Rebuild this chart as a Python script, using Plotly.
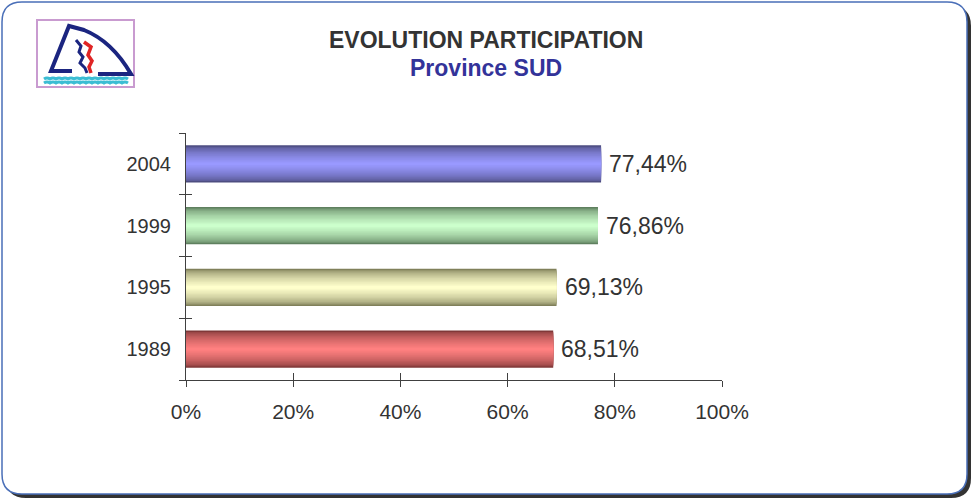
import plotly.graph_objects as go

# ---- data ----
years = ["1989", "1995", "1999", "2004"]
participation = [68.51, 69.13, 76.86, 77.44]
x_tick_vals = [0, 20, 40, 60, 80, 100]
x_tick_text = ["0%", "20%", "40%", "60%", "80%", "100%"]
title_line1 = "EVOLUTION PARTICIPATION"
title_line2 = "Province SUD"

edge_colors = [(0x80, 0x38, 0x38), (0x80, 0x80, 0x5a), (0x5f, 0x80, 0x5f), (0x4d, 0x4d, 0x80)]
center_colors = [(0xff, 0x80, 0x80), (0xff, 0xff, 0xcc), (0xcc, 0xff, 0xcc), (0x99, 0x99, 0xff)]

W, H = 971, 498
ML, MR, MT, MB = 186, W - 722, 133, H - 380
PW, PH = W - ML - MR, H - MT - MB


def px(x):
    return (x - ML) / PW


def py(y):
    return (H - MB - y) / PH


def path(cmds):
    out = []
    for c in cmds:
        if isinstance(c, str):
            out.append(c)
        else:
            out.append(f"{px(c[0]):.5f},{py(c[1]):.5f}")
    return " ".join(out)


def rrect(x0, y0, x1, y1, r):
    return path(["M", (x0 + r, y0), "L", (x1 - r, y0), "Q", (x1, y0), (x1, y0 + r),
                 "L", (x1, y1 - r), "Q", (x1, y1), (x1 - r, y1),
                 "L", (x0 + r, y1), "Q", (x0, y1), (x0, y1 - r),
                 "L", (x0, y0 + r), "Q", (x0, y0), (x0 + r, y0), "Z"])


fig = go.Figure()

N = 14
BAR_W = 0.6
labels = [f"{v:.2f}".replace(".", ",") + "%" for v in participation]
for i in range(N):
    t = (i / (N - 1)) ** 0.6
    cols = []
    for e, c in zip(edge_colors, center_colors):
        rgb = tuple(int(round(e[k] + (c[k] - e[k]) * t)) for k in range(3))
        cols.append("rgb(%d,%d,%d)" % rgb)
    w = BAR_W * (1 - i / N)
    fig.add_trace(go.Bar(
        x=participation, y=years, orientation="h",
        width=w, marker=dict(color=cols, line=dict(width=0)),
        hoverinfo="skip" if i else "x+y", showlegend=False,
    ))

for idx, (v, lab) in enumerate(zip(participation, labels)):
    fig.add_annotation(x=v, y=idx, xref="x", yref="y", text=lab, showarrow=False,
                       xanchor="left", yanchor="middle", xshift=6,
                       font=dict(size=23, color="#333333", family="Liberation Sans, Arial"))

# dummy trace for overlay axes giving the crossing tick halves
fig.add_trace(go.Scatter(x=[None], y=[None], xaxis="x2", yaxis="y2",
                         showlegend=False, hoverinfo="skip"))

axis_color = "#404040"
fig.update_layout(
    width=W, height=H,
    margin=dict(l=ML, r=MR, t=MT, b=MB),
    paper_bgcolor="white", plot_bgcolor="rgba(0,0,0,0)",
    barmode="overlay",
    font=dict(family="Liberation Sans, Arial", color="#333333"),
    xaxis=dict(range=[0, 100], tickvals=x_tick_vals, ticktext=x_tick_text,
               ticks="outside", ticklen=6, tickcolor=axis_color, tickwidth=1,
               showline=True, linecolor=axis_color, linewidth=1,
               showgrid=False, zeroline=False, fixedrange=True,
               tickfont=dict(size=21, color="#333333"), ticklabelstandoff=7),
    yaxis=dict(type="category", categoryorder="array", categoryarray=years,
               range=[-0.5, 3.5], tickson="boundaries",
               ticks="outside", ticklen=6, tickcolor=axis_color, tickwidth=1,
               showline=True, linecolor=axis_color, linewidth=1,
               showgrid=False, zeroline=False, fixedrange=True,
               tickfont=dict(size=20, color="#333333"), ticklabelstandoff=10),
    xaxis2=dict(overlaying="x", anchor="y2", side="bottom", range=[0, 100],
                tickvals=x_tick_vals, ticks="inside", ticklen=7, tickcolor=axis_color,
                showticklabels=False, showline=False, showgrid=False, zeroline=False),
    yaxis2=dict(overlaying="y", anchor="x2", side="left", range=[-0.5, 3.5],
                tickvals=[-0.5, 0.5, 1.5, 2.5, 3.5], ticks="inside", ticklen=6,
                tickcolor=axis_color, showticklabels=False, showline=False,
                showgrid=False, zeroline=False),
)

shapes = []
# frame shadow and frame
shapes.append(dict(type="path", xref="paper", yref="paper", layer="below",
                   path=rrect(6, 6, 971, 498, 20), fillcolor="#333333", line=dict(width=0)))
shapes.append(dict(type="path", xref="paper", yref="paper", layer="below",
                   path=rrect(2, 2, 967, 494, 20), fillcolor="white",
                   line=dict(color="#4a6fb8", width=1.5)))
# logo
shapes.append(dict(type="rect", xref="paper", yref="paper", layer="below",
                   x0=px(37), x1=px(134), y0=py(20), y1=py(87),
                   fillcolor="white", line=dict(color="#c99bd0", width=2)))
blue = "#1b2580"
shapes.append(dict(type="path", xref="paper", yref="paper", layer="below",
                   path=path(["M", (72, 71), "L", (51, 71), "L", (69, 26), "L", (84, 30),
                              "C", (104, 38), (120, 55), (131, 74), "L", (98, 74)]),
                   line=dict(color=blue, width=4)))
shapes.append(dict(type="path", xref="paper", yref="paper", layer="below",
                   path=path(["M", (76, 40), "L", (81, 46), "L", (79, 52), "L", (83, 57),
                              "L", (80, 63), "L", (85, 68), "L", (87, 73)]),
                   line=dict(color=blue, width=3)))
shapes.append(dict(type="path", xref="paper", yref="paper", layer="below",
                   path=path(["M", (84, 42), "L", (91, 47), "L", (88, 55), "L", (92, 61),
                              "L", (89, 67), "L", (91, 73)]),
                   line=dict(color="#e02525", width=3.5)))
wave1 = ["M", (44, 79)]
wave2 = ["M", (44, 83)]
xx = 44
while xx < 128:
    wave1 += ["Q", (xx + 3, 77), (xx + 6, 79)]
    wave2 += ["Q", (xx + 3, 81), (xx + 6, 83)]
    xx += 6
shapes.append(dict(type="path", xref="paper", yref="paper", layer="below",
                   path=path(wave1), line=dict(color="#3bbdd3", width=3)))
shapes.append(dict(type="path", xref="paper", yref="paper", layer="below",
                   path=path(wave2), line=dict(color="#3bbdd3", width=3)))
fig.update_layout(shapes=shapes)

fig.add_annotation(text=f"<b>{title_line1}</b>", xref="paper", yref="paper",
                   x=px(486), y=py(40), xanchor="center", yanchor="middle", showarrow=False,
                   font=dict(size=23, color="#333333", family="Liberation Sans, Arial"))
fig.add_annotation(text=f"<b>{title_line2}</b>", xref="paper", yref="paper",
                   x=px(486), y=py(68), xanchor="center", yanchor="middle", showarrow=False,
                   font=dict(size=23, color="#333399", family="Liberation Sans, Arial"))

fig.write_html("out.html", config={"displayModeBar": False},
               post_script="document.body.style.margin='0';document.body.style.overflow='hidden';")
